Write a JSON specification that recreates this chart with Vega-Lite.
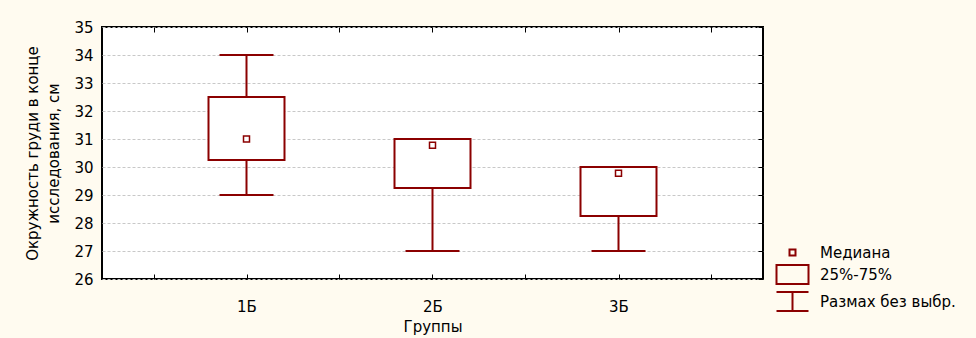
{
  "$schema": "https://vega.github.io/schema/vega-lite/v6.json",
  "width": 661,
  "height": 252,
  "autosize": {"type": "none"},
  "padding": {"left": 102, "top": 27, "right": 213, "bottom": 59},
  "background": "#fffbf0",
  "data": {"values": [
    {"group": "1Б", "x": 1, "min": 29, "q1": 30.25, "median": 31, "q3": 32.5, "max": 34},
    {"group": "2Б", "x": 2, "min": 27, "q1": 29.25, "median": 30.78, "q3": 31, "max": 31},
    {"group": "3Б", "x": 3, "min": 27, "q1": 28.25, "median": 29.78, "q3": 30, "max": 30}
  ]},
  "resolve": {"axis": {"x": "independent", "y": "independent"}},
  "layer": [
    {
      "mark": {"type": "rule", "color": "#8b0000", "strokeWidth": 2},
      "encoding": {
        "x": {"field": "x", "type": "quantitative",
          "scale": {"domain": [0.25, 3.75], "nice": false, "zero": false},
          "axis": {"orient": "bottom", "values": [0.5, 1, 1.5, 2, 2.5, 3, 3.5],
            "labelExpr": "datum.value == 1 ? '1Б' : datum.value == 2 ? '2Б' : datum.value == 3 ? '3Б' : ''",
            "tickSize": -5, "tickColor": "black", "tickWidth": 1, "labelPadding": 25,
            "grid": false, "domain": false, "title": "Группы", "titlePadding": 5}},
        "y": {"field": "min", "type": "quantitative",
          "scale": {"domain": [26, 35], "nice": false, "zero": false},
          "axis": {"orient": "left", "values": [26, 27, 28, 29, 30, 31, 32, 33, 34, 35],
            "ticks": false, "labelPadding": 9, "domain": false,
            "grid": true, "gridDash": [3, 2], "gridColor": "#c8c8c8", "gridWidth": 1,
            "title": ["Окружность груди в конце", "исследования, см"],
            "titlePadding": 12, "titleLineHeight": 21}},
        "y2": {"field": "q1"}
      }
    },
    {
      "mark": {"type": "rule", "color": "#8b0000", "strokeWidth": 2},
      "encoding": {
        "x": {"field": "x", "type": "quantitative",
          "axis": {"orient": "top", "values": [0.5, 1, 1.5, 2, 2.5, 3, 3.5],
            "labels": false, "tickSize": -5, "tickColor": "black", "tickWidth": 1,
            "grid": false, "domain": false, "title": null}},
        "y": {"field": "q3", "type": "quantitative",
          "axis": {"orient": "right", "values": [26, 27, 28, 29, 30, 31, 32, 33, 34, 35],
            "labels": false, "tickSize": -5, "tickColor": "black", "tickWidth": 1,
            "grid": false, "domain": false, "title": null}},
        "y2": {"field": "max"}
      }
    },
    {
      "mark": {"type": "bar", "size": 76, "fill": "white", "stroke": "#8b0000", "strokeWidth": 2, "orient": "vertical"},
      "encoding": {
        "x": {"field": "x", "type": "quantitative", "axis": null},
        "y": {"field": "q1", "type": "quantitative", "axis": null},
        "y2": {"field": "q3"}
      }
    },
    {
      "mark": {"type": "tick", "orient": "horizontal", "size": 54, "thickness": 2, "color": "#8b0000", "opacity": 1},
      "encoding": {
        "x": {"field": "x", "type": "quantitative", "axis": null},
        "y": {"field": "min", "type": "quantitative", "axis": null}
      }
    },
    {
      "mark": {"type": "tick", "orient": "horizontal", "size": 54, "thickness": 2, "color": "#8b0000", "opacity": 1},
      "encoding": {
        "x": {"field": "x", "type": "quantitative", "axis": null},
        "y": {"field": "max", "type": "quantitative", "axis": null}
      }
    },
    {
      "mark": {"type": "point", "size": 625, "filled": false, "color": "#8b0000", "strokeWidth": 1.5, "opacity": 1},
      "encoding": {
        "x": {"field": "x", "type": "quantitative", "axis": null},
        "y": {"field": "median", "type": "quantitative", "axis": null},
        "shape": {"datum": "Медиана", "type": "nominal",
          "scale": {"domain": ["Медиана", "25%-75%", "Размах без выбр."],
            "range": ["M-0.24,-0.24H0.24V0.24H-0.24Z", "M-1.28,-0.76H1.28V0.76H-1.28Z", "M-1.28,-0.76H1.28M0,-0.76V0.76M-1.28,0.76H1.28"]},
          "legend": {"title": null, "orient": "none", "legendX": 677, "legendY": 212,
            "symbolSize": 625, "symbolStrokeWidth": 2, "labelOffset": 14, "rowPadding": 0, "padding": 0,
            "labelFontSize": 15, "labelColor": "black", "labelFont": "DejaVu Sans",
            "symbolStrokeColor": "#8b0000", "symbolFillColor": "transparent", "symbolOpacity": 1}}
      }
    }
  ],
  "config": {
    "font": "DejaVu Sans",
    "axis": {"labelFont": "DejaVu Sans", "labelFontSize": 15, "labelColor": "black",
      "titleFont": "DejaVu Sans", "titleFontSize": 15, "titleFontWeight": "normal", "titleColor": "black"},
    "view": {"stroke": "black", "strokeWidth": 2, "fill": "white"}
  }
}
